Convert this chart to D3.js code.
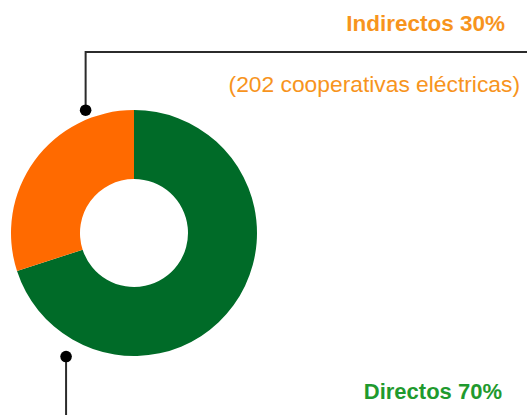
<!DOCTYPE html>
<html>
<head>
<meta charset="utf-8">
<script src="https://cdn.jsdelivr.net/npm/d3@7"></script>
<style>
  body { margin: 0; background: #fff; }
  svg { display: block; font-family: "Liberation Sans", Arial, sans-serif; }
</style>
</head>
<body>
<svg id="chart" width="527" height="415"></svg>
<script>
// data
let categories = ["Directos", "Indirectos"];
let values = [70, 30];
let colors = ["#006b28", "#ff6a00"];
let labels = ["Directos 70%", "Indirectos 30%"];
let subLabel = "(202 cooperativas eléctricas)";

let svg = d3.select("#chart");
let cx = 134, cy = 233;
let outerR = 123, innerR = 54;

let data = categories.map((c, i) => ({ name: c, value: values[i], color: colors[i] }));

let pie = d3.pie()
    .sort(null)
    .value(d => d.value);

let arc = d3.arc()
    .innerRadius(innerR)
    .outerRadius(outerR);

let body = svg.append("g")
    .attr("transform", `translate(${cx},${cy})`);

body.selectAll("path.slice")
    .data(pie(data))
    .enter()
    .append("path")
    .attr("class", "slice")
    .attr("d", arc)
    .attr("fill", d => d.data.color);

// leader lines
let lineColor = "#2b2b2b";
let topDot = d3.pointRadial(-21.5 * Math.PI / 180, 132);
let botDot = d3.pointRadial(208.8 * Math.PI / 180, 141);

let leaders = svg.append("g")
    .attr("transform", `translate(${cx},${cy})`);

leaders.append("path")
    .attr("d", `M${topDot[0]},${topDot[1]} V${52 - cy} H${527 - cx}`)
    .attr("fill", "none")
    .attr("stroke", lineColor)
    .attr("stroke-width", 2);

leaders.append("path")
    .attr("d", `M${botDot[0]},${botDot[1]} V${415 - cy}`)
    .attr("fill", "none")
    .attr("stroke", lineColor)
    .attr("stroke-width", 2);

leaders.selectAll("circle")
    .data([topDot, botDot])
    .enter()
    .append("circle")
    .attr("cx", d => d[0])
    .attr("cy", d => d[1])
    .attr("r", 5.8)
    .attr("fill", "#000");

// labels
svg.append("text")
    .attr("x", 505)
    .attr("y", 31)
    .attr("text-anchor", "end")
    .attr("font-size", 22.5)
    .attr("font-weight", "bold")
    .attr("fill", "#f7941d")
    .text(labels[1]);

svg.append("text")
    .attr("x", 520)
    .attr("y", 92)
    .attr("text-anchor", "end")
    .attr("font-size", 22.8)
    .attr("fill", "#f7941d")
    .text(subLabel);

svg.append("text")
    .attr("x", 502)
    .attr("y", 399)
    .attr("text-anchor", "end")
    .attr("font-size", 22)
    .attr("font-weight", "bold")
    .attr("fill", "#1f9a2e")
    .text(labels[0]);
</script>
</body>
</html>
